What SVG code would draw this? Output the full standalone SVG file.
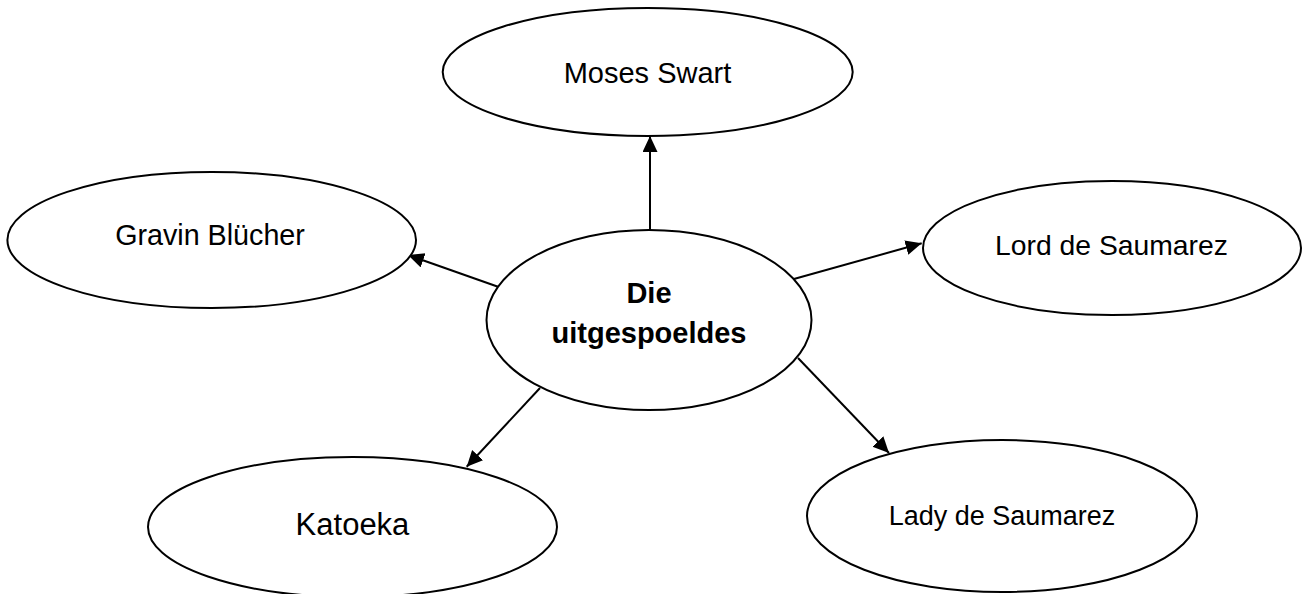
<svg xmlns="http://www.w3.org/2000/svg" width="1316" height="594" viewBox="0 0 1316 594">
<style>
.node ellipse{fill:#fff;stroke:#000;stroke-width:2}
.node text{font-family:"Liberation Sans",Arial,sans-serif;fill:#000;text-anchor:middle}
.conn line{stroke:#000;stroke-width:2}
</style>
<defs>
<marker id="arr" markerUnits="userSpaceOnUse" markerWidth="17" markerHeight="16" refX="16" refY="7.5" orient="auto">
<path d="M0,0 L16,7.5 L0,15 z" fill="#000"/>
</marker>
</defs>
<rect width="1316" height="594" fill="#fff"/>
<g id="connectors" class="conn">
<line x1="650" y1="230" x2="650" y2="136" marker-end="url(#arr)"/>
<line x1="498" y1="286.7" x2="408" y2="255" marker-end="url(#arr)"/>
<line x1="793" y1="279.3" x2="921.7" y2="243.3" marker-end="url(#arr)"/>
<line x1="540" y1="388" x2="466.7" y2="466.7" marker-end="url(#arr)"/>
<line x1="798" y1="358" x2="889" y2="453" marker-end="url(#arr)"/>
</g>
<g id="center" class="node">
<ellipse cx="649" cy="320" rx="162.5" ry="90"/>
<text x="649" y="303.3" font-size="29" font-weight="bold">Die</text>
<text x="649" y="342.7" font-size="29" font-weight="bold">uitgespoeldes</text>
</g>
<g id="moses" class="node">
<ellipse cx="647.7" cy="72" rx="205" ry="64"/>
<text x="647.5" y="83.3" font-size="29">Moses Swart</text>
</g>
<g id="gravin" class="node">
<ellipse cx="211.7" cy="240" rx="204.3" ry="68"/>
<text x="210" y="245" font-size="28.7">Gravin Blücher</text>
</g>
<g id="lord" class="node">
<ellipse cx="1112" cy="248" rx="189" ry="67"/>
<text x="1111.5" y="255" font-size="28.3">Lord de Saumarez</text>
</g>
<g id="katoeka" class="node">
<ellipse cx="352.5" cy="527" rx="204.5" ry="70"/>
<text x="352.5" y="535" font-size="31">Katoeka</text>
</g>
<g id="lady" class="node">
<ellipse cx="1002" cy="516" rx="195" ry="76"/>
<text x="1002" y="525" font-size="27">Lady de Saumarez</text>
</g>
</svg>
